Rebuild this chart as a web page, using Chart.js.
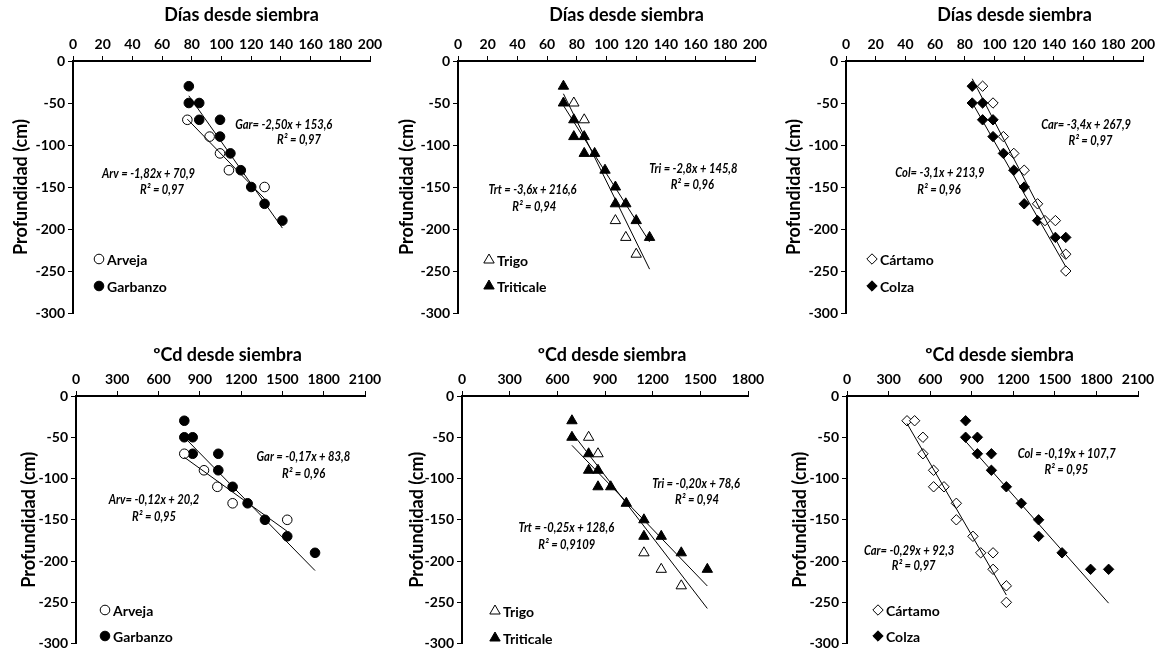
<!DOCTYPE html>
<html>
<head>
<meta charset="utf-8">
<script src="https://cdn.jsdelivr.net/npm/chart.js@4.4.1/dist/chart.umd.min.js"></script>
<style>
	html, body { margin: 0; padding: 0; background: #fff; }
	#wrap { position: relative; width: 1163px; height: 655px; overflow: hidden; }
	.panel { position: absolute; }
</style>
</head>
<body>
<div id="wrap"></div>
<script>
// tick labels
const diasTicks = [0, 20, 40, 60, 80, 100, 120, 140, 160, 180, 200];
const gdTicks = [0, 300, 600, 900, 1200, 1500, 1800, 2100];
const gdTicksTrigo = [0, 300, 600, 900, 1200, 1500, 1800];
const depthTicks = [0, -50, -100, -150, -200, -250, -300];

// días desde siembra
const arvejaDiasX = [77, 92, 99, 105, 129];
const arvejaDiasY = [-70, -90, -110, -130, -150];
const garbanzoDiasX = [78, 78, 85, 85, 99, 99, 106, 113, 120, 129, 141];
const garbanzoDiasY = [-30, -50, -50, -70, -70, -90, -110, -130, -150, -170, -190];
const trigoDiasX = [78, 85, 106, 113, 120];
const trigoDiasY = [-50, -70, -190, -210, -230];
const triticaleDiasX = [71, 71, 78, 78, 85, 85, 92, 99, 106, 106, 113, 120, 129];
const triticaleDiasY = [-30, -50, -70, -90, -90, -110, -110, -130, -150, -170, -170, -190, -210];
const cartamoDiasX = [92, 99, 106, 113, 120, 129, 134, 141, 148, 148];
const cartamoDiasY = [-30, -50, -90, -110, -130, -170, -190, -190, -230, -250];
const colzaDiasX = [85, 85, 92, 92, 99, 99, 106, 113, 120, 120, 129, 141, 148];
const colzaDiasY = [-30, -50, -50, -70, -70, -90, -110, -130, -150, -170, -190, -210, -210];

// ºCd desde siembra
const arvejaGdX = [787, 930, 1027, 1138, 1535];
const arvejaGdY = [-70, -90, -110, -130, -150];
const garbanzoGdX = [787, 787, 848, 848, 1034, 1034, 1138, 1247, 1373, 1535, 1737];
const garbanzoGdY = [-30, -50, -50, -70, -70, -90, -110, -130, -150, -170, -190];
const trigoGdX = [797, 856, 1145, 1254, 1380];
const trigoGdY = [-50, -70, -190, -210, -230];
const triticaleGdX = [692, 692, 797, 797, 856, 856, 936, 1034, 1145, 1145, 1254, 1380, 1544];
const triticaleGdY = [-30, -50, -70, -90, -90, -110, -110, -130, -150, -170, -170, -190, -210];
const cartamoGdX = [433, 488, 548, 548, 625, 625, 700, 789, 789, 909, 965, 1054, 1054, 1150, 1150];
const cartamoGdY = [-30, -30, -50, -70, -90, -110, -110, -130, -150, -170, -190, -190, -210, -230, -250];
const colzaGdX = [856, 856, 941, 941, 1042, 1042, 1150, 1258, 1383, 1383, 1552, 1758, 1888];
const colzaGdY = [-30, -50, -50, -70, -70, -90, -110, -130, -150, -170, -190, -210, -210];

// trend lines [slope, intercept] as printed on the chart
const arvejaDiasFit = [-1.82, 70.9];
const garbanzoDiasFit = [-2.50, 153.6];
const trigoDiasFit = [-3.6, 216.6];
const triticaleDiasFit = [-2.8, 145.8];
const cartamoDiasFit = [-3.4, 267.9];
const colzaDiasFit = [-3.1, 213.9];
const arvejaGdFit = [-0.12, 20.2];
const garbanzoGdFit = [-0.17, 83.8];
const trigoGdFit = [-0.25, 128.6];
const triticaleGdFit = [-0.20, 78.6];
const cartamoGdFit = [-0.29, 92.3];
const colzaGdFit = [-0.19, 107.7];

const FONT = 'Lato, "Liberation Sans", sans-serif';

const panels = [
	{
		box: [0, 0, 388, 327], area: [73, 61, 370, 313], yTitleX: 21,
		title: 'Días desde siembra', titleY: 15, titleShift: 20, xTicks: diasTicks, shared: false,
		series: [
			{ name: 'Arveja', x: arvejaDiasX, y: arvejaDiasY, fit: arvejaDiasFit, style: 'circle', filled: false },
			{ name: 'Garbanzo', x: garbanzoDiasX, y: garbanzoDiasY, fit: garbanzoDiasFit, style: 'circle', filled: true },
		],
		notes: [
			['Gar= -2,50x + 153,6', 141.9, -76], ['R² = 0,97', 152.2, -94],
			['Arv = -1,82x + 70,9', 50.9, -134.5], ['R² = 0,97', 59.9, -153.6],
		],
		legendX: 99, legendY: [259, 286],
	},
	{
		box: [385, 0, 388, 327], area: [73, 61, 370, 313], yTitleX: 22,
		title: 'Días desde siembra', titleY: 15, titleShift: 20, xTicks: diasTicks, shared: true,
		series: [
			{ name: 'Trigo', x: trigoDiasX, y: trigoDiasY, fit: trigoDiasFit, style: 'triangle', filled: false },
			{ name: 'Triticale', x: triticaleDiasX, y: triticaleDiasY, fit: triticaleDiasFit, style: 'triangle', filled: true },
		],
		notes: [
			['Tri = -2,8x + 145,8', 158.5, -127.8], ['R² = 0,96', 157.8, -147.6],
			['Trt = -3,6x + 216,6', 50.2, -153.6], ['R² = 0,94', 51.3, -173.4],
		],
		legendX: 104, legendY: [260, 286],
	},
	{
		box: [773, 0, 390, 327], area: [73, 61, 370, 313], yTitleX: 21,
		title: 'Días desde siembra', titleY: 15, titleShift: 20, xTicks: diasTicks, shared: true,
		series: [
			{ name: 'Cártamo', x: cartamoDiasX, y: cartamoDiasY, fit: cartamoDiasFit, style: 'rectRot', filled: false },
			{ name: 'Colza', x: colzaDiasX, y: colzaDiasY, fit: colzaDiasFit, style: 'rectRot', filled: true },
		],
		notes: [
			['Car= -3,4x + 267,9', 161.7, -76.2], ['R² = 0,97', 164.6, -94.8],
			['Col= -3,1x + 213,9', 63.2, -133.7], ['R² = 0,96', 62.6, -152.8],
		],
		legendX: 99, legendY: [259, 286],
	},
	{
		box: [0, 328, 388, 327], area: [76, 68, 365, 318], yTitleX: 29,
		title: 'ºCd desde siembra', titleY: 27, titleShift: 7, xTicks: gdTicks, shared: false,
		series: [
			{ name: 'Arveja', x: arvejaGdX, y: arvejaGdY, fit: arvejaGdFit, style: 'circle', filled: false },
			{ name: 'Garbanzo', x: garbanzoGdX, y: garbanzoGdY, fit: garbanzoGdFit, style: 'circle', filled: true },
		],
		notes: [
			['Gar = -0,17x + 83,8', 1652, -74], ['R² = 0,96', 1654, -94],
			['Arv= -0,12x + 20,2', 567, -126], ['R² = 0,95', 567, -146],
		],
		legendX: 105, legendY: [282, 308],
	},
	{
		box: [385, 328, 388, 327], area: [77, 68, 363, 318], yTitleX: 32,
		title: 'ºCd desde siembra', titleY: 27, titleShift: 7, xTicks: gdTicksTrigo, shared: true,
		series: [
			{ name: 'Trigo', x: trigoGdX, y: trigoGdY, fit: trigoGdFit, style: 'triangle', filled: false },
			{ name: 'Triticale', x: triticaleGdX, y: triticaleGdY, fit: triticaleGdFit, style: 'triangle', filled: true },
		],
		notes: [
			['Tri = -0,20x + 78,6', 1473, -106], ['R² = 0,94', 1479, -126],
			['Trt = -0,25x + 128,6', 657, -160], ['R² = 0,9109', 659, -180],
		],
		legendX: 110, legendY: [283, 310],
	},
	{
		box: [773, 328, 390, 327], area: [74, 68, 365, 318], yTitleX: 27,
		title: 'ºCd desde siembra', titleY: 27, titleShift: 7, xTicks: gdTicks, shared: false,
		series: [
			{ name: 'Cártamo', x: cartamoGdX, y: cartamoGdY, fit: cartamoGdFit, style: 'rectRot', filled: false },
			{ name: 'Colza', x: colzaGdX, y: colzaGdY, fit: colzaGdFit, style: 'rectRot', filled: true },
		],
		notes: [
			['Col = -0,19x + 107,7', 1585, -70], ['R² = 0,95', 1583, -90],
			['Car= -0,29x + 92,3', 448, -187], ['R² = 0,97', 481, -206],
		],
		legendX: 105, legendY: [282, 308],
	},
];

const toPoints = (xs, ys) => xs.map((x, i) => ({ x: x, y: ys[i] }));

function trendPoints (fit, lo, hi) {
	return [lo, hi].map(x => ({ x: x, y: fit[0] * x + fit[1] }));
}

const markerRadius = { circle: 4.8, triangle: 6, rectRot: 5.2 };

// draws the title, equation labels and legend of one panel
const panelDecor = {
	id: 'panelDecor',
	afterDatasetsDraw (chart, args, p) {
		const ctx = chart.ctx;
		const area = chart.chartArea;
		const xs = chart.scales.x;
		const ys = chart.scales.y;
		ctx.save();
		ctx.fillStyle = '#000';
		ctx.textBaseline = 'middle';
		ctx.textAlign = 'center';
		ctx.font = 'bold 18px ' + FONT;
		ctx.fillText(p.title, (area.left + area.right) / 2 + p.titleShift, p.titleY);

		// Calibri-like narrow italic
		ctx.font = 'italic bold 13px ' + FONT;
		p.notes.forEach(n => {
			const w = ctx.measureText(n[0]).width;
			ctx.fillText(n[0], xs.getPixelForValue(n[1]), ys.getPixelForValue(n[2]), w * 0.86);
		});

		ctx.textAlign = 'left';
		ctx.font = 'bold 14px ' + FONT;
		p.series.forEach((s, i) => {
			const y = p.legendY[i];
			ctx.fillStyle = s.filled ? '#000' : '#fff';
			ctx.strokeStyle = '#000';
			ctx.lineWidth = 1;
			Chart.helpers.drawPoint(ctx, { pointStyle: s.style, radius: markerRadius[s.style], borderWidth: 1, rotation: 0 }, p.legendX, y);
			ctx.fillStyle = '#000';
			ctx.fillText(s.name, p.legendX + 8, y + 1);
		});
		ctx.restore();
	},
};

function buildChart (p) {
	const div = document.createElement('div');
	div.className = 'panel';
	div.style.left = p.box[0] + 'px';
	div.style.top = p.box[1] + 'px';
	const cv = document.createElement('canvas');
	cv.width = p.box[2];
	cv.height = p.box[3];
	div.appendChild(cv);
	document.getElementById('wrap').appendChild(div);

	const allX = [].concat(...p.series.map(s => s.x));
	const datasets = [];
	p.series.forEach(s => {
		const lo = p.shared ? Math.min(...allX) : Math.min(...s.x);
		const hi = p.shared ? Math.max(...allX) : Math.max(...s.x);
		datasets.push({
			label: s.name + ' tendencia',
			data: trendPoints(s.fit, lo, hi),
			showLine: true,
			borderColor: '#000',
			borderWidth: 1,
			pointRadius: 0,
			order: 0,
		});
	});
	p.series.forEach(s => {
		datasets.push({
			label: s.name,
			data: toPoints(s.x, s.y),
			pointStyle: s.style,
			pointRadius: markerRadius[s.style],
			pointBackgroundColor: s.filled ? '#000' : '#fff',
			pointBorderColor: '#000',
			pointBorderWidth: 1,
			showLine: false,
			order: 1,
		});
	});

	const tickFont = { family: FONT, size: 14, weight: 'bold' };
	const gridOpts = { drawOnChartArea: false, drawTicks: true, tickLength: 5, color: '#000', lineWidth: 1 };
	const borderOpts = { color: '#000', width: 2 };

	new Chart(cv, {
		type: 'scatter',
		data: { datasets: datasets },
		options: {
			responsive: false,
			animation: false,
			events: [],
			layout: { padding: { left: 0, top: 0, right: p.box[2] - p.area[2], bottom: p.box[3] - p.area[3] } },
			plugins: { legend: { display: false }, tooltip: { enabled: false }, panelDecor: p },
			scales: {
				x: {
					type: 'linear',
					position: 'top',
					min: p.xTicks[0],
					max: p.xTicks[p.xTicks.length - 1],
					ticks: { stepSize: p.xTicks[1] - p.xTicks[0], font: tickFont, color: '#000', padding: 3, maxRotation: 0, autoSkip: false, callback: v => String(v) },
					grid: gridOpts,
					border: borderOpts,
					afterFit: scale => { scale.height = p.area[1]; },
				},
				y: {
					type: 'linear',
					min: depthTicks[depthTicks.length - 1],
					max: depthTicks[0],
					ticks: { stepSize: depthTicks[0] - depthTicks[1], font: tickFont, color: '#000', padding: 3, callback: v => String(v) },
					grid: gridOpts,
					border: borderOpts,
					title: { display: true, text: 'Profundidad (cm)', color: '#000', font: { family: FONT, size: 18, weight: 'bold' }, padding: { top: p.yTitleX - 10.8, bottom: 0 } },
					afterFit: scale => { scale.width = p.area[0]; },
				},
			},
		},
		plugins: [panelDecor],
	});
}

panels.forEach(buildChart);
</script>
</body>
</html>
